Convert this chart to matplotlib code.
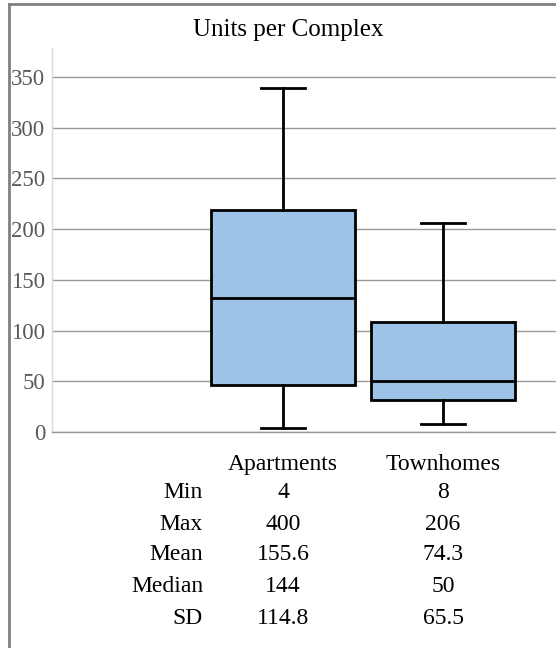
import matplotlib.pyplot as plt
from matplotlib.transforms import blended_transform_factory
from matplotlib.lines import Line2D

plt.rcParams["font.family"] = ["Liberation Serif", "DejaVu Serif"]

categories = ["Apartments", "Townhomes"]
whisker_low = [4, 8]
q1 = [46, 32]
median_line = [132, 50]
q3 = [219, 108]
whisker_high = [339, 206]

y_ticks = [0, 50, 100, 150, 200, 250, 300, 350]

row_labels = ["Min", "Max", "Mean", "Median", "SD"]
table_values = [
    ["4", "8"],
    ["400", "206"],
    ["155.6", "74.3"],
    ["144", "50"],
    ["114.8", "65.5"],
]

fig = plt.figure(figsize=(5.56, 6.48), dpi=100)
ax = fig.add_axes([52 / 556, 216 / 648, 504 / 556, 384 / 648])

stats = []
for i, name in enumerate(categories):
    stats.append(dict(label=name, whislo=whisker_low[i], q1=q1[i], med=median_line[i],
                      q3=q3[i], whishi=whisker_high[i], fliers=[]))

positions = [1, 2]
ax.bxp(stats, positions=positions, widths=0.9, capwidths=0.27, patch_artist=True,
       showfliers=False,
       boxprops=dict(facecolor="#9dc3e6", edgecolor="black", linewidth=2.0),
       medianprops=dict(color="black", linewidth=2.0),
       whiskerprops=dict(color="black", linewidth=2.0),
       capprops=dict(color="black", linewidth=2.0), zorder=3)

ax.set_xlim(-0.444, 2.706)
ax.set_ylim(0, 378.6)
ax.set_yticks(y_ticks)
ax.set_yticklabels([str(t) for t in y_ticks])
ax.set_xticks(positions)
ax.set_xticklabels(categories)
ax.tick_params(axis="y", length=0, pad=5, labelsize=16.5, labelcolor="#595959")
ax.tick_params(axis="x", length=0, pad=15.5, labelsize=17, labelcolor="black")
ax.yaxis.grid(True, color="#9a9a9a", linewidth=1.0)
ax.set_axisbelow(True)

for side in ["top", "right"]:
    ax.spines[side].set_visible(False)
ax.spines["left"].set_color("#d9d9d9")
ax.spines["left"].set_linewidth(1.0)
ax.spines["bottom"].set_color("#9a9a9a")
ax.spines["bottom"].set_linewidth(1.0)

fig.text(288 / 556, 1 - 30 / 648, "Units per Complex", ha="center", va="center",
         fontsize=18)

# stats table under the boxes
trans = blended_transform_factory(ax.transData, fig.transFigure)
row_y = [493, 524, 555, 586, 618]
label_x = 1 - (283 - 203) / 160
for r, lab in enumerate(row_labels):
    y = 1 - row_y[r] / 648
    ax.text(label_x, y, lab, transform=trans, ha="right", va="center",
            fontsize=17, clip_on=False)
    for c, pos in enumerate(positions):
        ax.text(pos, y, table_values[r][c], transform=trans, ha="center",
                va="center", fontsize=17, clip_on=False)

# outer frame (top and left edges visible)
fig.add_artist(Line2D([9 / 556, 9 / 556], [0, 1 - 4 / 648], transform=fig.transFigure,
                      color="#808080", linewidth=2))
fig.add_artist(Line2D([9 / 556, 1], [1 - 4 / 648, 1 - 4 / 648], transform=fig.transFigure,
                      color="#808080", linewidth=2))

fig.savefig("out.png", dpi=100)
